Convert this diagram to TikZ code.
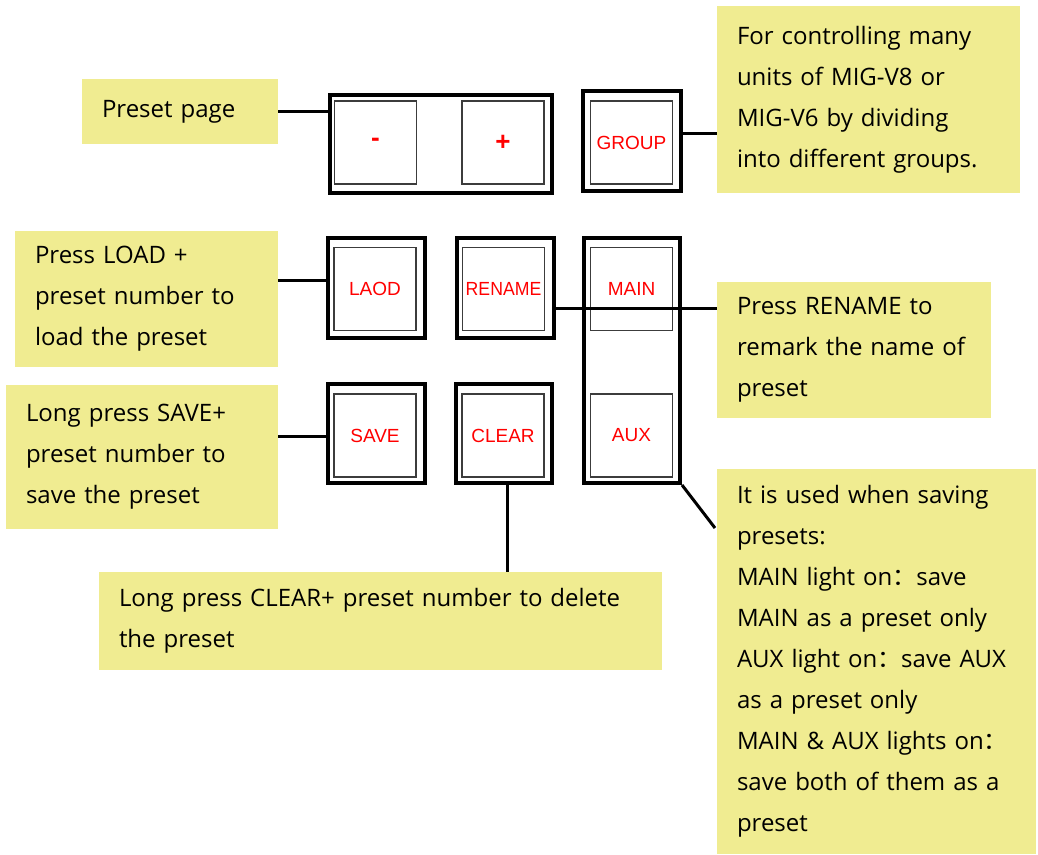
\documentclass[tikz,border=0pt]{standalone}
\usepackage{fontspec}
\setmainfont{Open Sans}
\newfontfamily\btnfont{Liberation Sans}
\newfontfamily\cjk{Noto Sans CJK SC}
\definecolor{noteyellow}{RGB}{240,236,145}
\definecolor{btnred}{RGB}{255,0,0}
\definecolor{innergray}{RGB}{60,60,60}
\newcommand{\fwc}{{\cjk ：}}
\begin{document}
\begin{tikzpicture}[x=1pt,y=-1pt,
  note/.style={fill=noteyellow, draw=none, inner xsep=20pt, inner ysep=0pt, align=left,
    font=\fontsize{24}{41}\selectfont, anchor=center},
  outerbox/.style={draw=black, line width=4pt, fill=white, inner sep=0pt},
  innerbox/.style={draw=innergray, line width=1.3pt, fill=white, inner sep=0pt,
    minimum width=82pt, minimum height=83pt, text=btnred, font=\btnfont\fontsize{19}{19}\selectfont},
  signbox/.style={innerbox, font=\btnfont\bfseries\fontsize{26}{26}\selectfont},
  conn/.style={draw=black, line width=3pt}]
\useasboundingbox (0,0) rectangle (1038,854);

% notes
\node[note, minimum width=196pt, minimum height=65pt, text width=156pt] (pnote) at (180,111.5) {Preset page};
\node[note, minimum width=303pt, minimum height=187pt, text width=263pt] (gnote) at (868.5,99.5) {For controlling many\\units of MIG-V8 or\\MIG-V6 by dividing\\into different groups.};
\node[note, minimum width=263pt, minimum height=136pt, text width=223pt] (lnote) at (146.5,299) {Press LOAD +\\preset number to\\load the preset};
\node[note, minimum width=272pt, minimum height=144pt, text width=232pt] (snote) at (142,457) {Long press SAVE+\\preset number to\\save the preset};
\node[note, minimum width=563pt, minimum height=98pt, text width=523pt] (cnote) at (380.5,621) {Long press CLEAR+ preset number to delete\\the preset};
\node[note, minimum width=274pt, minimum height=136pt, text width=234pt] (rnote) at (854,350) {Press RENAME to\\remark the name of\\preset};
\node[note, minimum width=319pt, minimum height=385pt, text width=279pt] (anote) at (876.5,661.5) {It is used when saving\\presets:\\MAIN light on\fwc save\\MAIN as a preset only\\AUX light on\fwc save AUX\\as a preset only\\MAIN \& AUX lights on\fwc\\save both of them as a\\preset};

% outer boxes
\node[outerbox, minimum width=222pt, minimum height=98pt] (pm) at (441,144) {};
\node[outerbox, minimum width=98pt, minimum height=100pt] (grp) at (632,141) {};
\node[outerbox, minimum width=97pt, minimum height=100pt] (laod) at (376.5,288) {};
\node[outerbox, minimum width=97pt, minimum height=100pt] (ren) at (505.5,288) {};
\node[outerbox, minimum width=96pt, minimum height=245pt] (ma) at (632,360.5) {};
\node[outerbox, minimum width=97pt, minimum height=99pt] (save) at (376.5,433.5) {};
\node[outerbox, minimum width=96pt, minimum height=99pt] (clr) at (504,433.5) {};

% inner buttons
\node[signbox] (minus) at (375.5,142.5) {-};
\node[signbox] (plus) at (503,142.5) {+};
\node[innerbox] (group) at (631.5,142.5) {GROUP};
\node[innerbox] (laodb) at (375,289) {LAOD};
\node[innerbox] (renb) at (503.5,289) {\scalebox{0.93}[1]{RENAME}};
\node[innerbox] (mainb) at (631.5,289) {MAIN};
\node[innerbox] (saveb) at (375,435.5) {SAVE};
\node[innerbox] (clrb) at (503,435.5) {CLEAR};
\node[innerbox] (auxb) at (631.5,435.5) {AUX};

% connectors
\coordinate (pmA) at (pm.west |- 0,111);
\draw[conn] (pmA) -- (pmA -| pnote.east);
\coordinate (grpA) at (681,133);
\draw[conn] (grpA) -- (grpA -| gnote.west);
\coordinate (laodA) at (328,280);
\draw[conn] (laodA) -- (laodA -| lnote.east);
\coordinate (saveA) at (328,436);
\draw[conn] (saveA) -- (saveA -| snote.east);
\coordinate (renA) at (554,308);
\draw[conn] (renA) -- (renA -| rnote.west);
\coordinate (clrA) at (507,483);
\draw[conn] (clrA) -- (clrA |- cnote.north);
\coordinate (auxend) at (715,528);
\draw[conn] (ma.south east) -- (auxend);
\end{tikzpicture}
\end{document}
